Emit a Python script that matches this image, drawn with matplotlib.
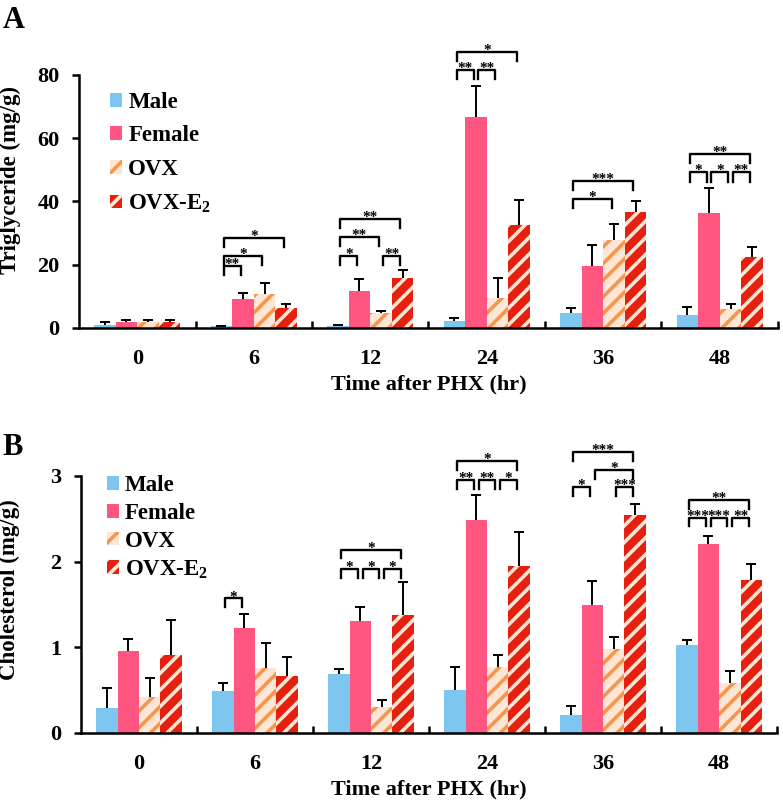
import numpy as np
import matplotlib
matplotlib.use("Agg")
import matplotlib.pyplot as plt
from matplotlib.patches import Patch

plt.rcParams['font.family'] = ['Liberation Serif', 'DejaVu Serif']
plt.rcParams['font.weight'] = 'bold'
plt.rcParams['hatch.linewidth'] = 2.6
plt.rcParams['mathtext.fontset'] = 'custom'
plt.rcParams['mathtext.rm'] = 'Liberation Serif:bold'
plt.rcParams['mathtext.default'] = 'rm'

times = ["0", "6", "12", "24", "36", "48"]
groups = ["Male", "Female", "OVX", "OVX-E$_{2}$"]

# Panel A: triglyceride (mg/g)
tg_male = [1.0, 0.5, 0.5, 2.2, 4.7, 4.1]
tg_male_err = [0.8, 0.2, 0.3, 1.0, 1.6, 2.5]
tg_female = [2.0, 9.2, 11.7, 66.7, 19.7, 36.4]
tg_female_err = [0.5, 1.8, 3.8, 9.7, 6.5, 7.9]
tg_ovx = [2.0, 10.7, 4.8, 9.6, 27.8, 5.9]
tg_ovx_err = [0.5, 3.5, 0.6, 6.3, 5.2, 1.6]
tg_e2 = [2.0, 6.2, 15.8, 32.4, 36.6, 22.4]
tg_e2_err = [0.5, 1.4, 2.5, 8.2, 3.5, 3.3]

# Panel B: cholesterol (mg/g)
ch_male = [0.29, 0.49, 0.69, 0.50, 0.21, 1.03]
ch_male_err = [0.24, 0.09, 0.06, 0.27, 0.11, 0.06]
ch_female = [0.96, 1.23, 1.31, 2.49, 1.49, 2.21]
ch_female_err = [0.14, 0.16, 0.16, 0.29, 0.28, 0.09]
ch_ovx = [0.42, 0.76, 0.30, 0.77, 0.98, 0.58]
ch_ovx_err = [0.22, 0.29, 0.09, 0.14, 0.14, 0.14]
ch_e2 = [0.91, 0.67, 1.38, 1.95, 2.54, 1.78]
ch_e2_err = [0.41, 0.22, 0.38, 0.39, 0.13, 0.19]

# significance brackets: (time index, bar i, bar j, height, label)
tg_sig = [
    (1, 0, 1, 19.7, "**"), (1, 0, 2, 22.8, "*"), (1, 0, 3, 28.5, "*"),
    (2, 0, 1, 22.8, "*"), (2, 0, 2, 28.8, "**"), (2, 0, 3, 34.4, "**"), (2, 2, 3, 22.8, "**"),
    (3, 0, 1, 81.5, "**"), (3, 1, 2, 81.5, "**"), (3, 0, 3, 87.3, "*"),
    (4, 0, 2, 40.7, "*"), (4, 0, 3, 46.4, "***"),
    (5, 0, 1, 49.2, "*"), (5, 1, 2, 49.2, "*"), (5, 2, 3, 49.2, "**"), (5, 0, 3, 55.0, "**"),
]
ch_sig = [
    (1, 0, 1, 1.57, "*"),
    (2, 0, 1, 1.91, "*"), (2, 1, 2, 1.91, "*"), (2, 2, 3, 1.91, "*"), (2, 0, 3, 2.14, "*"),
    (3, 0, 1, 2.95, "**"), (3, 1, 2, 2.95, "**"), (3, 2, 3, 2.95, "*"), (3, 0, 3, 3.17, "*"),
    (4, 0, 1, 2.87, "*"), (4, 2, 3, 2.87, "***"), (4, 1, 3, 3.07, "*"), (4, 0, 3, 3.28, "***"),
    (5, 0, 1, 2.51, "***"), (5, 1, 2, 2.51, "***"), (5, 2, 3, 2.51, "**"), (5, 0, 3, 2.72, "**"),
]

c_male = "#7DC6EF"
c_female = "#FF5581"
c_peach = "#FDE6D6"
c_orange = "#F7964A"
c_red = "#E5200E"

styles = [
    dict(color=c_male, linewidth=0),
    dict(color=c_female, linewidth=0),
    dict(facecolor=c_peach, edgecolor=c_orange, hatch="//", linewidth=0),
    dict(facecolor=c_red, edgecolor=c_peach, hatch="//", linewidth=0),
]

W = 0.185
FS = 16

fig = plt.figure(figsize=(7.83, 8.06), dpi=100)
axA = fig.add_axes([0.1009, 0.5931, 0.8927, 0.3139])
axB = fig.add_axes([0.1034, 0.0906, 0.8890, 0.3189])


def draw(ax, series, errs, sig, ymax, yticks, ylabel, leg_dy, ylab_pos, leg_loc, leg_space):
    x = np.arange(len(times)) + 0.5
    for k, (vals, err) in enumerate(zip(series, errs)):
        xs = x + (k - 1.5) * W
        ax.bar(xs, vals, width=W, zorder=2, **styles[k])
        eb = ax.errorbar(xs, vals, yerr=[np.zeros(len(vals)), err], fmt="none",
                         ecolor="black", elinewidth=1.4, capsize=3.6, capthick=1.4, zorder=3)
        eb[1][0].set_visible(False)
    ax.set_xlim(0, len(times))
    ax.set_ylim(0, ymax)
    ax.set_yticks(yticks)
    ax.set_xticks(x)
    ax.set_xticklabels(times)
    ax.set_xticks(np.arange(1, len(times) + 1), minor=True)
    ax.tick_params(axis="x", which="major", length=0, pad=15, labelsize=FS)
    ax.tick_params(axis="x", which="minor", direction="in", length=5, width=1.8)
    ax.tick_params(axis="y", which="major", direction="out", length=5, width=1.8, pad=9, labelsize=FS)
    for lab in ax.get_xticklabels() + ax.get_yticklabels():
        lab.set_fontweight("bold")
    for s in ["top", "right"]:
        ax.spines[s].set_visible(False)
    for s in ["left", "bottom"]:
        ax.spines[s].set_linewidth(1.8)
    ax.set_ylabel(ylabel, fontsize=FS + 0.5, fontweight="bold")
    ax.yaxis.set_label_coords(*ylab_pos)
    ax.set_xlabel("Time after PHX (hr)", fontsize=FS, fontweight="bold", labelpad=4)
    # brackets
    for (g, i, j, h, lab) in sig:
        x1 = g + 0.5 + (i - 1.5) * W + 0.02
        x2 = g + 0.5 + (j - 1.5) * W - 0.02
        ax.plot([x1, x1, x2, x2], [h - leg_dy, h, h, h - leg_dy], color="black",
                lw=1.7, clip_on=False, zorder=4)
        ax.annotate(lab, xy=((x1 + x2) / 2, h), xytext=(0, -1.5), textcoords="offset points",
                    ha="center", va="baseline", fontsize=11, fontweight="bold",
                    annotation_clip=False)
    handles = [Patch(**styles[k]) for k in range(4)]
    ax.legend(handles, groups, loc="upper left", bbox_to_anchor=leg_loc, frameon=False,
              prop=dict(size=FS + 0.5, weight="bold"), handlelength=0.55, handleheight=0.55,
              handletextpad=0.25, labelspacing=leg_space, borderaxespad=0)


draw(axA, [tg_male, tg_female, tg_ovx, tg_e2],
     [tg_male_err, tg_female_err, tg_ovx_err, tg_e2_err], tg_sig,
     80, [0, 20, 40, 60, 80], "Triglyceride (mg/g)", 2.9, (-0.083, 0.585),
     (0.031, 0.97), 0.55)
draw(axB, [ch_male, ch_female, ch_ovx, ch_e2],
     [ch_male_err, ch_female_err, ch_ovx_err, ch_e2_err], ch_sig,
     3, [0, 1, 2, 3], "Cholesterol (mg/g)", 0.1, (-0.088, 0.556),
     (0.024, 1.04), 0.3)

fig.text(0.003, 0.965, "A", fontsize=22, fontweight="bold", ha="left", va="baseline")
fig.text(0.003, 0.436, "B", fontsize=22, fontweight="bold", ha="left", va="baseline")

fig.savefig("out.png", dpi=100)
